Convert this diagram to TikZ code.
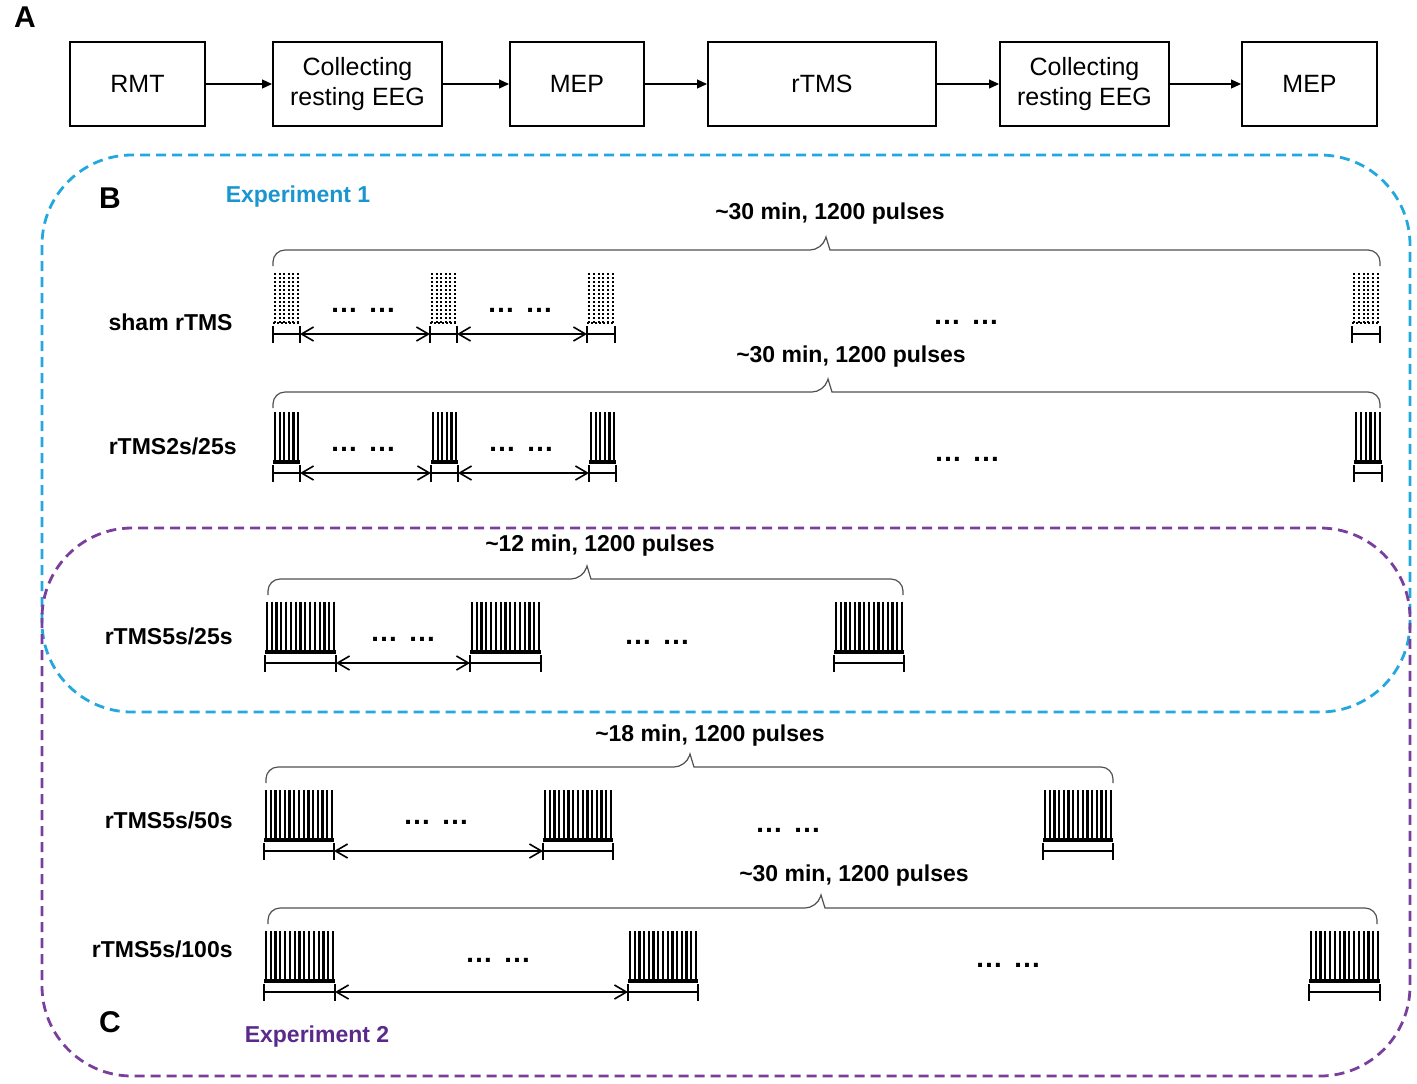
\documentclass[tikz,border=0pt]{standalone}
\usepackage{fontspec}
\setmainfont{Liberation Sans}
\usetikzlibrary{arrows.meta}
\definecolor{expblue}{HTML}{22A8DF}
\definecolor{exptextb}{HTML}{1B95D0}
\definecolor{exppurple}{HTML}{7A3E9D}
\definecolor{exptextp}{HTML}{5A2A8A}
\definecolor{bracegray}{HTML}{505050}
\newcommand{\tld}{\char126\relax}
\tikzset{
  stagebox/.style={draw=black,line width=1pt,minimum width=67.5pt,minimum height=42pt,inner sep=0pt,align=center,font=\fontsize{12.5}{15}\selectfont},
  flowarrow/.style={line width=0.6pt,-{Triangle[length=5pt,width=4.5pt]}},
  pulse/.style={line width=1.1pt,black},
  sham/.style={line width=1pt,dash pattern=on 1pt off 1pt},
  baseline/.style={line width=1.6pt,black},
  tickline/.style={line width=1pt,black},
  gaparrow/.style={line width=0.8pt,{Straight Barb[length=6pt,width=7pt]}-{Straight Barb[length=6pt,width=7pt]}},
  bracestyle/.style={line width=0.6pt,bracegray,rounded corners=6pt},
  bracelabel/.style={font=\fontsize{11.5}{13}\selectfont\bfseries},
  rowlabel/.style={anchor=east,inner sep=0pt,font=\fontsize{11.5}{13}\selectfont\bfseries},
  dotslabel/.style={font=\fontsize{14}{16}\selectfont\bfseries},
  panel/.style={font=\fontsize{15}{18}\selectfont\bfseries},
  expbox/.style={dash pattern=on 5pt off 3pt,line width=1.4pt,rounded corners=45pt},
}
% #1 name, #2 x1, #3 x2, #4 top, #5 number of pulses, #6 extra style
\newcommand{\pulsetrain}[6]{%
  \coordinate (#1-l) at ({#2},{#4+61});
  \coordinate (#1-r) at ({#3},{#4+61});
  \pgfmathsetmacro{\pstep}{(#3-#2-4)/(#5-1)}
  \foreach \k in {1,...,#5} {
    \draw[pulse,#6] ({#2+2+(\k-1)*\pstep},{#4}) -- ({#2+2+(\k-1)*\pstep},{#4+50});
  }
  \draw[baseline,#6] ({#2},{#4+50}) -- ({#3},{#4+50});
  \draw[tickline] ({#2},{#4+53}) -- ({#2},{#4+70});
  \draw[tickline] ({#3},{#4+53}) -- ({#3},{#4+70});
  \draw[tickline] (#1-l) -- (#1-r);
}
% #1 x1, #2 x2, #3 tip x, #4 y
\newcommand{\timebrace}[4]{%
  \draw[bracestyle] ({#1},{#4+16}) -- ({#1},{#4}) -- ({#3-4},{#4}) [sharp corners] -- ({#3},{#4-13}) -- ({#3+4},{#4}) [rounded corners=6pt] -- ({#2},{#4}) -- ({#2},{#4+16});
}
\begin{document}
\begin{tikzpicture}[x=0.5pt,y=-0.5pt]
\path[use as bounding box] (0,0) rectangle (1417,1083);

% Panel A
\node[panel] (lA) at (25,17) {A};
\node[stagebox,minimum width=67.5pt] (a1) at (137.5,84) {RMT};
\node[stagebox,minimum width=84.5pt] (a2) at (357.5,84) {Collecting\\resting EEG};
\node[stagebox,minimum width=67pt] (a3) at (577,84) {MEP};
\node[stagebox,minimum width=114pt] (a4) at (822,84) {rTMS};
\node[stagebox,minimum width=84.5pt] (a5) at (1084.5,84) {Collecting\\resting EEG};
\node[stagebox,minimum width=67.5pt] (a6) at (1309.5,84) {MEP};
\draw[flowarrow] (a1) -- (a2);
\draw[flowarrow] (a2) -- (a3);
\draw[flowarrow] (a3) -- (a4);
\draw[flowarrow] (a4) -- (a5);
\draw[flowarrow] (a5) -- (a6);

% Experiment frames
\draw[expbox,draw=expblue] (42,155) rectangle (1410,712);
\draw[expbox,draw=exppurple] (42,528) rectangle (1410,1076);
\node[panel] (lB) at (110,198) {B};
\node[font=\fontsize{11.5}{13}\selectfont\bfseries,text=exptextb] (e1) at (298,197) {Experiment 1};
\node[panel] (lC) at (110,1022) {C};
\node[font=\fontsize{11.5}{13}\selectfont\bfseries,text=exptextp] (e2) at (317,1037) {Experiment 2};

% Row 1: sham rTMS
\node[rowlabel] (r1) at (233,322) {sham rTMS};
\timebrace{273}{1380}{826}{250}
\node[bracelabel] (t1) at (830,214) {\tld30 min, 1200 pulses};
\pulsetrain{s1}{273}{300}{273}{6}{sham}
\pulsetrain{s2}{430}{457}{273}{6}{sham}
\pulsetrain{s3}{587}{615}{273}{6}{sham}
\pulsetrain{s4}{1352}{1380}{273}{6}{sham}
\draw[gaparrow] (s1-r) -- (s2-l);
\draw[gaparrow] (s2-r) -- (s3-l);
\node[dotslabel] (d11) at (363,310) {…\hspace{5pt}…};
\node[dotslabel] (d12) at (520,310) {…\hspace{5pt}…};
\node[dotslabel] (d13) at (966,322) {…\hspace{5pt}…};

% Row 2: rTMS2s/25s
\node[rowlabel] (r2) at (237,446) {rTMS2s/25s};
\timebrace{273}{1380}{828}{392}
\node[bracelabel] (t2) at (851,357) {\tld30 min, 1200 pulses};
\pulsetrain{p1}{273}{300}{412}{6}{}
\pulsetrain{p2}{431}{458}{412}{6}{}
\pulsetrain{p3}{589}{616}{412}{6}{}
\pulsetrain{p4}{1354}{1382}{412}{6}{}
\draw[gaparrow] (p1-r) -- (p2-l);
\draw[gaparrow] (p2-r) -- (p3-l);
\node[dotslabel] (d21) at (363,449) {…\hspace{5pt}…};
\node[dotslabel] (d22) at (521,449) {…\hspace{5pt}…};
\node[dotslabel] (d23) at (967,459) {…\hspace{5pt}…};

% Row 3: rTMS5s/25s
\node[rowlabel] (r3) at (233,636) {rTMS5s/25s};
\timebrace{268}{903}{587}{579}
\node[bracelabel] (t3) at (600,546) {\tld12 min, 1200 pulses};
\pulsetrain{q1}{265}{336}{602}{15}{}
\pulsetrain{q2}{470}{541}{602}{15}{}
\pulsetrain{q3}{834}{904}{602}{15}{}
\draw[gaparrow] (q1-r) -- (q2-l);
\node[dotslabel] (d31) at (403,639) {…\hspace{5pt}…};
\node[dotslabel] (d32) at (657,642) {…\hspace{5pt}…};

% Row 4: rTMS5s/50s
\node[rowlabel] (r4) at (233,820) {rTMS5s/50s};
\timebrace{266}{1113}{690}{767}
\node[bracelabel] (t4) at (710,736) {\tld18 min, 1200 pulses};
\pulsetrain{u1}{264}{334}{790}{15}{}
\pulsetrain{u2}{543}{613}{790}{15}{}
\pulsetrain{u3}{1043}{1113}{790}{15}{}
\draw[gaparrow] (u1-r) -- (u2-l);
\node[dotslabel] (d41) at (436,822) {…\hspace{5pt}…};
\node[dotslabel] (d42) at (788,830) {…\hspace{5pt}…};

% Row 5: rTMS5s/100s
\node[rowlabel] (r5) at (233,949) {rTMS5s/100s};
\timebrace{268}{1377}{821}{908}
\node[bracelabel] (t5) at (854,876) {\tld30 min, 1200 pulses};
\pulsetrain{w1}{264}{335}{931}{15}{}
\pulsetrain{w2}{628}{698}{931}{15}{}
\pulsetrain{w3}{1309}{1380}{931}{15}{}
\draw[gaparrow] (w1-r) -- (w2-l);
\node[dotslabel] (d51) at (498,960) {…\hspace{5pt}…};
\node[dotslabel] (d52) at (1008,965) {…\hspace{5pt}…};
\end{tikzpicture}
\end{document}
